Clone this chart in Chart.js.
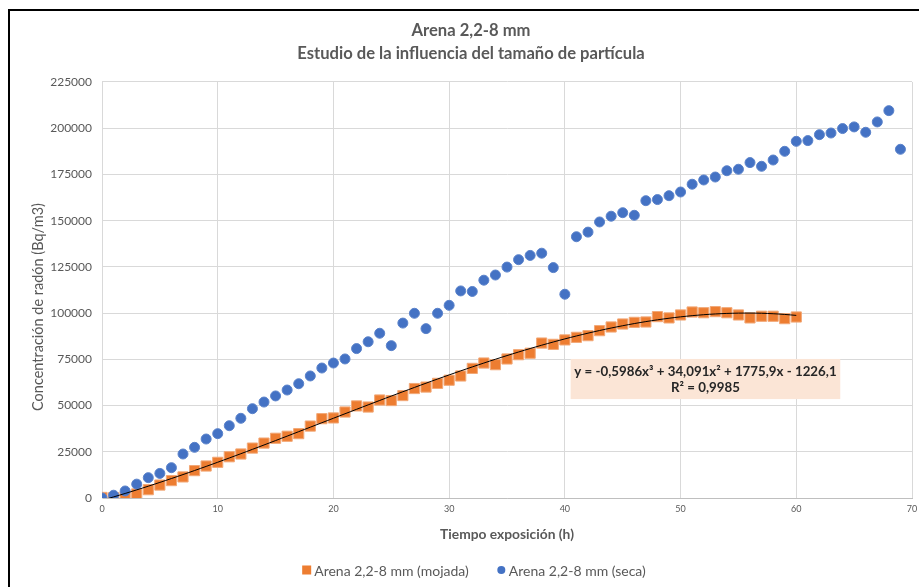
<!DOCTYPE html>
<html>
<head>
<meta charset="utf-8">
<script src="https://cdn.jsdelivr.net/npm/chart.js@4.4.1/dist/chart.umd.min.js"></script>
<style>
  html, body { margin: 0; padding: 0; background: #ffffff; overflow: hidden; }
  #wrap { position: relative; width: 942px; height: 587px; }
  canvas { display: block; }
</style>
</head>
<body>
<div id="wrap"><canvas id="chart" width="942" height="587"></canvas></div>
<script>
// Exposure time (h) for each series
const horasSeca = [0,1,2,3,4,5,6,7,8,9,10,11,12,13,14,15,16,17,18,19,20,21,22,23,24,25,26,27,28,29,30,31,32,33,34,35,36,37,38,39,40,41,42,43,44,45,46,47,48,49,50,51,52,53,54,55,56,57,58,59,60,61,62,63,64,65,66,67,68,69];
const horasMojada = [0,1,2,3,4,5,6,7,8,9,10,11,12,13,14,15,16,17,18,19,20,21,22,23,24,25,26,27,28,29,30,31,32,33,34,35,36,37,38,39,40,41,42,43,44,45,46,47,48,49,50,51,52,53,54,55,56,57,58,59,60];

// Radon concentration (Bq/m3)
const radonSeca = [0,1500,3800,7500,11000,13300,16400,23800,27400,31900,34800,39100,43100,48300,51900,55200,58400,61800,66000,70300,73000,75200,80800,84500,89100,82400,94600,99900,91600,99900,104200,112000,111700,117800,120600,124900,128900,131200,132400,124600,110200,141300,143800,149300,152400,154300,152900,160800,161400,163500,165500,169700,172000,173600,177000,177800,181400,179400,182800,187500,192900,193300,196500,197400,199800,200700,197800,203400,209500,188600];
const radonMojada = [300,200,700,2200,4500,7000,9400,11400,14800,17300,19300,22300,23800,27000,29700,32300,33400,34800,38900,42900,43300,46500,49800,49200,53000,52700,55400,59200,60000,62000,63700,66000,70100,73000,72100,75200,77500,78300,83800,83100,85500,86900,87800,90500,92500,94100,95000,95200,98100,97400,99000,100600,100200,100800,100200,99000,97400,98300,98300,97000,97900];

// Cubic trend fitted to the wet sand series: a3, a2, a1, a0
const tendenciaCoef = [-0.5986, 34.091, 1775.9, -1226.1];
const tendenciaTexto = ['y = -0,5986x\u00B3 + 34,091x\u00B2 + 1775,9x - 1226,1', 'R\u00B2 = 0,9985'];

const seriesNombres = ['Arena 2,2-8 mm (mojada)', 'Arena 2,2-8 mm (seca)'];
const titulo = ['Arena 2,2-8 mm', 'Estudio de la influencia del tama\u00F1o de part\u00EDcula'];
const ejeX = 'Tiempo exposici\u00F3n (h)';
const ejeY = 'Concentraci\u00F3n de rad\u00F3n (Bq/m3)';

const FONT = 'Lato, "Open Sans", sans-serif';
const GRIS = '#595959';

const toXY = (xs, ys) => xs.map((x, i) => ({ x: x, y: ys[i] }));
const poly = (c, x) => ((c[0] * x + c[1]) * x + c[2]) * x + c[3];

// Outer frame of the chart object
const marcoPlugin = {
  id: 'marco',
  beforeDraw(chart) {
    const ctx = chart.ctx;
    ctx.save();
    ctx.fillStyle = '#ffffff';
    ctx.fillRect(0, 0, chart.width, chart.height);
    ctx.strokeStyle = '#000000';
    ctx.lineWidth = 2;
    ctx.beginPath();
    ctx.moveTo(9, chart.height + 2);
    ctx.lineTo(9, 10);
    ctx.lineTo(chart.width + 2, 10);
    ctx.stroke();
    ctx.restore();
  }
};

// Vertical axis title, set a little below the middle of the plot
const tituloYPlugin = {
  id: 'tituloY',
  afterDraw(chart, args, opts) {
    const ys = chart.scales.y;
    const ctx = chart.ctx;
    ctx.save();
    ctx.translate(opts.x, (ys.top + ys.bottom) / 2 + opts.desplazamiento);
    ctx.rotate(-Math.PI / 2);
    ctx.font = opts.size + 'px ' + FONT;
    ctx.fillStyle = GRIS;
    ctx.textAlign = 'center';
    ctx.textBaseline = 'middle';
    ctx.fillText(opts.text, 0, 0);
    ctx.restore();
  }
};

// Trendline equation label
const ecuacionPlugin = {
  id: 'ecuacion',
  afterDatasetsDraw(chart, args, opts) {
    const xs = chart.scales.x, ys = chart.scales.y;
    const x0 = xs.getPixelForValue(opts.x0), x1 = xs.getPixelForValue(opts.x1);
    const y0 = ys.getPixelForValue(opts.y0), y1 = ys.getPixelForValue(opts.y1);
    const ctx = chart.ctx;
    ctx.save();
    ctx.fillStyle = '#FBE5D6';
    ctx.fillRect(x0, y0, x1 - x0, y1 - y0);
    ctx.fillStyle = '#262626';
    ctx.font = 'bold 13.3px ' + FONT;
    ctx.textAlign = 'center';
    ctx.textBaseline = 'middle';
    const cx = (x0 + x1) / 2;
    ctx.fillText(opts.lines[0], cx, y0 + 13);
    ctx.fillText(opts.lines[1], cx, y0 + 29);
    ctx.restore();
  }
};

// Legend row under the axis title, one entry per data series
const leyendaPlugin = {
  id: 'leyenda',
  afterDraw(chart, args, opts) {
    const ctx = chart.ctx;
    const sets = chart.data.datasets.filter(d => d.enLeyenda);
    ctx.save();
    ctx.font = opts.size + 'px ' + FONT;
    ctx.textBaseline = 'middle';
    ctx.textAlign = 'left';
    const anchos = sets.map(d => opts.marca + opts.hueco + ctx.measureText(d.label).width);
    const total = anchos.reduce((a, b) => a + b, 0) + opts.separacion * (sets.length - 1);
    const centro = (chart.options.layout.padding.left + chart.width - chart.options.layout.padding.right) / 2 + opts.desplazamiento;
    let x = centro - total / 2;
    const y = chart.height - opts.desdeAbajo;
    sets.forEach((d, i) => {
      ctx.fillStyle = d.backgroundColor;
      if (d.pointStyle === 'rect') {
        ctx.fillRect(x, y - opts.marca / 2, opts.marca, opts.marca);
      } else {
        ctx.beginPath();
        ctx.arc(x + opts.marca / 2, y, opts.marca / 2 - 0.5, 0, Math.PI * 2);
        ctx.fill();
      }
      ctx.fillStyle = GRIS;
      ctx.fillText(d.label, x + opts.marca + opts.hueco, y + 1);
      x += anchos[i] + opts.separacion;
    });
    ctx.restore();
  }
};

const ctx = document.getElementById('chart').getContext('2d');
new Chart(ctx, {
  type: 'scatter',
  data: {
    datasets: [
      {
        label: seriesNombres[0],
        enLeyenda: true,
        data: toXY(horasMojada, radonMojada),
        pointStyle: 'rect',
        pointRadius: 7.2,
        pointHoverRadius: 7.2,
        backgroundColor: '#ED7D31',
        borderColor: '#F2A877',
        borderWidth: 1,
        order: 3
      },
      {
        label: seriesNombres[1],
        enLeyenda: true,
        data: toXY(horasSeca, radonSeca),
        pointStyle: 'circle',
        pointRadius: 5,
        pointHoverRadius: 5,
        backgroundColor: '#4472C4',
        borderColor: '#5B83CB',
        borderWidth: 1,
        order: 2
      },
      {
        label: 'tendencia',
        type: 'line',
        data: horasMojada.map(x => ({ x: x, y: poly(tendenciaCoef, x) })),
        borderColor: '#000000',
        borderWidth: 1,
        pointRadius: 0,
        fill: false,
        tension: 0.3,
        order: 1
      }
    ]
  },
  options: {
    responsive: false,
    animation: false,
    devicePixelRatio: 1,
    layout: { padding: { left: 30, right: 30, top: 0, bottom: 43.7 } },
    plugins: {
      tooltip: { enabled: false },
      legend: { display: false },
      title: {
        display: true,
        text: titulo,
        color: GRIS,
        font: { family: FONT, size: 16.6, weight: 'bold', lineHeight: 1.4 },
        padding: { top: 19, bottom: 16.5 }
      },
      tituloY: { text: ejeY, size: 14.5, x: 38, desplazamiento: 17 },
      leyenda: { size: 14, marca: 9, hueco: 3, separacion: 28, desdeAbajo: 17, desplazamiento: 3 },
      ecuacion: {
        x0: 40.5, x1: 63.8, y0: 75200, y1: 53500,
        lines: tendenciaTexto
      }
    },
    scales: {
      x: {
        type: 'linear',
        min: 0, max: 70,
        ticks: { stepSize: 10, color: GRIS, font: { family: FONT, size: 9 }, padding: 6 },
        grid: { color: '#D9D9D9', lineWidth: 1, drawTicks: false },
        border: { color: '#BFBFBF', width: 1 },
        title: {
          display: true, text: ejeX, color: GRIS,
          font: { family: FONT, size: 13.8, weight: 'bold', lineHeight: 1.2 },
          padding: { top: 0, bottom: 0 }
        },
        afterFit(scale) { scale.height = 45.3; }
      },
      y: {
        type: 'linear',
        min: 0, max: 225000,
        ticks: {
          stepSize: 25000, color: GRIS, font: { family: FONT, size: 12 }, padding: 10,
          callback: v => String(v)
        },
        grid: { color: '#D9D9D9', lineWidth: 1, drawTicks: false },
        border: { color: '#D9D9D9', width: 1 },
        afterFit(scale) { scale.width = 72; }
      }
    }
  },
  plugins: [marcoPlugin, ecuacionPlugin, leyendaPlugin, tituloYPlugin]
});
</script>
</body>
</html>
